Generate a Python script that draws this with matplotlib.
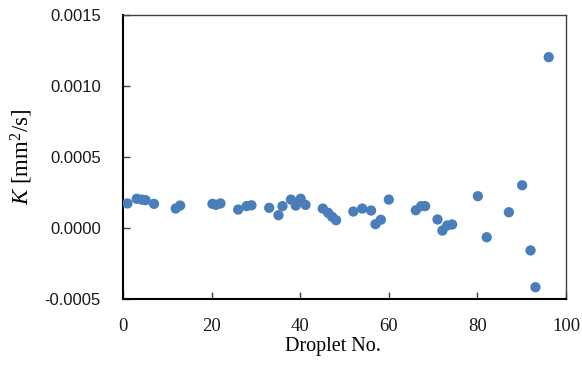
import numpy as np
import matplotlib
matplotlib.use("Agg")
import matplotlib.pyplot as plt

plt.rcParams["mathtext.fontset"] = "custom"
plt.rcParams["mathtext.rm"] = "Liberation Serif"
plt.rcParams["mathtext.it"] = "Liberation Serif:italic"


droplet_no = [1.0, 3.1, 4.2, 5.1, 7.0, 11.9, 12.9, 20.2, 21.0, 22.0,
              26.0, 27.9, 29.0, 33.0, 35.1, 36.0, 37.9, 39.0, 40.1, 41.2,
              45.1, 46.3, 47.2, 48.1, 52.0, 54.0, 56.0, 57.0, 58.2, 60.0,
              66.1, 67.3, 68.2, 71.0, 72.1, 73.2, 74.3, 80.1, 82.1, 87.1,
              90.1, 92.0, 93.1, 96.1]

k_values = [0.000173, 0.000206, 0.000200, 0.000196, 0.000170, 0.000137, 0.000158,
            0.000170, 0.000163, 0.000173,
            0.000130, 0.000154, 0.000160, 0.000142, 0.000090, 0.000154, 0.000200,
            0.000158, 0.000206, 0.000163,
            0.000137, 0.000107, 0.000079, 0.000055, 0.000116, 0.000137, 0.000123,
            0.000027, 0.000058, 0.000200,
            0.000125, 0.000154, 0.000154, 0.000060, -0.000018, 0.000018, 0.000025,
            0.000224, -0.000065, 0.000111,
            0.000301, -0.000158, -0.000417, 0.001203]

x_ticks = [0, 20, 40, 60, 80, 100]
y_ticks = [-0.0005, 0.0, 0.0005, 0.0010, 0.0015]

POINT_COLOR = "#4a7ebb"

fig = plt.figure(figsize=(5.82, 3.74), dpi=100)
ax = fig.add_axes([123 / 582, 1 - 299 / 374, 443 / 582, 284 / 374])

ax.scatter(droplet_no, k_values, s=55, color=POINT_COLOR, edgecolors="none", zorder=3)

ax.set_xlim(0, 100)
ax.set_ylim(-0.0005, 0.0015)
ax.set_xticks(x_ticks)
ax.set_yticks(y_ticks)
ax.set_yticklabels([f"{v:.4f}" for v in y_ticks], fontfamily="Liberation Sans", fontsize=12)
ax.set_xticklabels([str(v) for v in x_ticks], fontfamily="Liberation Serif", fontsize=13.5)

ax.tick_params(axis="y", direction="in", length=5, width=1, pad=16, colors="#404040")
ax.tick_params(axis="x", direction="in", length=5, width=1, pad=14, colors="#404040")
for lab in ax.get_xticklabels() + ax.get_yticklabels():
    lab.set_color("#1a1a1a")

for side in ["top", "right"]:
    ax.spines[side].set_color("#404040")
    ax.spines[side].set_linewidth(1.0)
for side in ["left", "bottom"]:
    ax.spines[side].set_color("black")
    ax.spines[side].set_linewidth(1.5)

ax.set_xlabel("Droplet No.", fontfamily="Liberation Serif", fontsize=14.5, labelpad=3)
ax.xaxis.set_label_coords(0.474, -0.135)
ax.set_ylabel(r"$K$ [mm$^2$/s]", fontfamily="Liberation Serif", fontsize=16.5, labelpad=7)

fig.savefig("out.png", dpi=100)
